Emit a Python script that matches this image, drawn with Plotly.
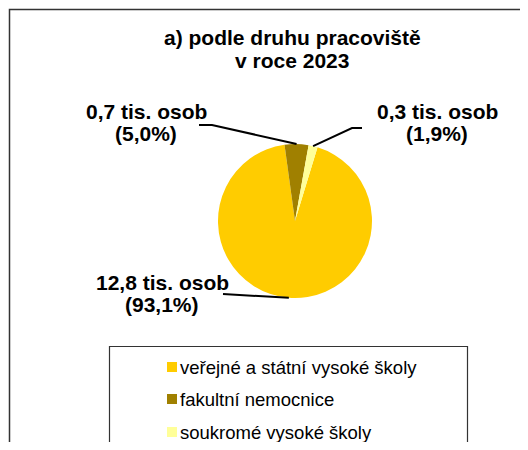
import math
import plotly.graph_objects as go

# ---- data ----
categories = ["veřejné a státní vysoké školy", "fakultní nemocnice", "soukromé vysoké školy"]
values_tis = [12.8, 0.7, 0.3]          # tis. osob
shares_pct = [93.1, 5.0, 1.9]          # %
colors = ["#FFCC00", "#A08000", "#FFFF99"]
title_lines = ["a) podle druhu pracoviště", "v roce 2023"]

# The page body has an 8px margin, so the figure is placed inside the
# 528x450 window and the axes are expressed in window pixel coordinates.
WIN_W, WIN_H = 528, 450
OFF = 8
W, H = WIN_W - OFF, WIN_H - 2 * OFF
FONT = "Arial, Liberation Sans, sans-serif"

# pie geometry (window pixels)
cx, cy, r = 295, 221, 77
rotation = 17

def fx(px):
    return (px - OFF) / W

def fy(py):
    return 1 - (py - OFF) / H

fig = go.Figure()
fig.add_trace(go.Pie(
    labels=categories,
    values=shares_pct,
    sort=False,
    direction="clockwise",
    rotation=rotation,
    marker=dict(colors=colors, line=dict(width=0)),
    textinfo="none",
    hoverinfo="label+value",
    showlegend=False,
    domain=dict(x=[fx(cx - r), fx(cx + r)], y=[fy(cy + r), fy(cy - r)]),
))

def fmt(v, d=1):
    return f"{v:.{d}f}".replace(".", ",")

# rim points at slice mid angles (computed from data)
total = sum(shares_pct)
mids = []
start = rotation
for v in shares_pct:
    span = v / total * 360
    mids.append(start + span / 2)
    start += span
rim = [(cx + r * math.sin(math.radians(a)), cy - r * math.cos(math.radians(a))) for a in mids]

# label placement (layout): center x, line1 y, line2 y, leader elbow points
label_pos = [
    dict(x=162, y1=282, y2=304, path=[(223, 294)]),
    dict(x=146, y1=111, y2=133, path=[(199, 125), (212, 125)]),
    dict(x=437, y1=111, y2=133, path=[(362, 128), (352, 128)]),
]

annotations = []
shapes = []
for i, lp in enumerate(label_pos):
    annotations.append(dict(x=lp["x"], y=lp["y1"], xref="x", yref="y", showarrow=False,
                            text=f"<b>{fmt(values_tis[i])} tis. osob</b>", xanchor="center", yanchor="middle",
                            font=dict(family=FONT, size=21, color="#000")))
    annotations.append(dict(x=lp["x"], y=lp["y2"], xref="x", yref="y", showarrow=False,
                            text=f"<b>({fmt(shares_pct[i])}%)</b>", xanchor="center", yanchor="middle",
                            font=dict(family=FONT, size=21, color="#000")))
    pts = lp["path"] + [rim[i]]
    d = "M " + " L ".join(f"{px},{py}" for px, py in pts)
    shapes.append(dict(type="path", path=d, xref="x", yref="y", line=dict(color="#000", width=2)))

# title
for t, ty in zip(title_lines, [37, 60]):
    annotations.append(dict(x=292, y=ty, xref="x", yref="y", showarrow=False, text=f"<b>{t}</b>",
                            xanchor="center", yanchor="middle", font=dict(family=FONT, size=21, color="#000")))

# chart border
shapes.append(dict(type="rect", xref="x", yref="y", x0=9.5, y0=9.5, x1=600, y1=600,
                   line=dict(color="#333", width=1.5), fillcolor="rgba(0,0,0,0)"))
# legend box
shapes.append(dict(type="rect", xref="x", yref="y", x0=109.5, y0=346.5, x1=467.5, y1=445.5,
                   line=dict(color="#333", width=1.2), fillcolor="rgba(0,0,0,0)"))
row_y = [367, 399, 432]
for i, c in enumerate(categories):
    shapes.append(dict(type="rect", xref="x", yref="y", x0=167, x1=177, y0=row_y[i] - 5, y1=row_y[i] + 5,
                       line=dict(width=0), fillcolor=colors[i]))
    annotations.append(dict(x=178, y=row_y[i], xref="x", yref="y", showarrow=False, text=c,
                            xanchor="left", yanchor="middle", font=dict(family=FONT, size=18.5, color="#000")))

fig.update_layout(
    width=W, height=H,
    margin=dict(l=0, r=0, t=0, b=0),
    paper_bgcolor="white", plot_bgcolor="white",
    xaxis=dict(range=[OFF, OFF + W], visible=False, fixedrange=True),
    yaxis=dict(range=[OFF + H, OFF], visible=False, fixedrange=True),
    shapes=shapes, annotations=annotations,
    showlegend=False,
)
fig.write_html("out.html")
